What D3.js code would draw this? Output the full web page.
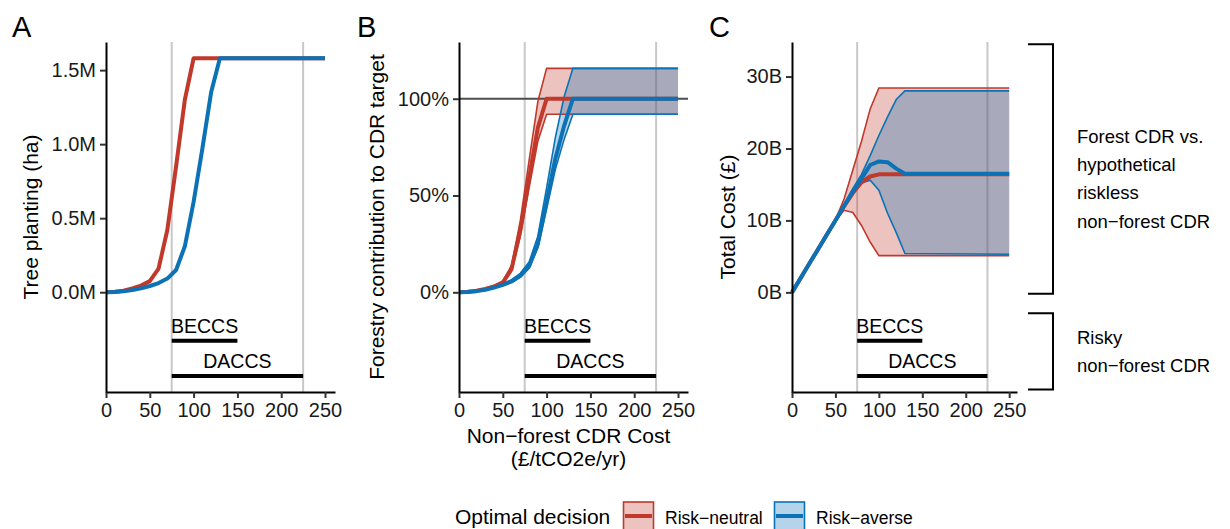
<!DOCTYPE html>
<html>
<head>
<meta charset="utf-8">
<script src="https://cdn.jsdelivr.net/npm/d3@7"></script>
<style>
  body { margin: 0; background: #fff; }
  svg { font-family: "Liberation Sans", Arial, Helvetica, sans-serif; }
</style>
</head>
<body>
<svg id="chart" width="1230" height="529"></svg>
<script>
// non-forest CDR cost (£/tCO2e/yr) at which the optimisation was run
var costSteps = [0, 10, 20, 30, 40, 50, 60, 70, 80, 90, 100, 110, 120, 130, 250];

// A: tree planting (M ha)
var plantNeutral = [0, 0.003, 0.01, 0.025, 0.045, 0.075, 0.16, 0.42, 0.85, 1.30, 1.58, 1.58, 1.58, 1.58, 1.58];
var plantAverse  = [0, 0.002, 0.006, 0.014, 0.026, 0.042, 0.062, 0.092, 0.15, 0.31, 0.61, 0.97, 1.35, 1.58, 1.58];

// B: forestry contribution to CDR target (%)
var shareNeutral   = [0, 0.3, 0.8, 1.7, 3, 5, 12, 32, 59, 85, 100, 100, 100, 100, 100];
var shareNeutralHi = [0, 0.3, 0.9, 2, 3.5, 5.8, 14, 37, 68, 98.5, 115.7, 115.7, 115.7, 115.7, 115.7];
var shareNeutralLo = [0, 0.3, 0.7, 1.6, 2.8, 4.6, 11, 29, 54, 78, 92, 92, 92, 92, 92];
var shareAverse    = [0, 0.2, 0.6, 1.3, 2.4, 3.8, 5.6, 8.5, 13.5, 25, 47, 69, 86, 100, 100];
var shareAverseHi  = [0, 0.2, 0.7, 1.5, 2.8, 4.4, 6.5, 9.8, 15.6, 29, 54, 80, 101, 115.7, 115.7];
var shareAverseLo  = [0, 0.2, 0.55, 1.2, 2.2, 3.5, 5.2, 7.8, 12.4, 23, 43, 63.5, 79, 92, 92];

// C: total cost (£B)
var costNeutral   = [0, 2, 4, 6, 8, 10, 12, 13.8, 15.3, 16.1, 16.4, 16.4, 16.4, 16.4, 16.4];
var costNeutralHi = [0, 2, 4, 6, 8, 10.1, 13, 17, 21, 25.5, 28.4, 28.4, 28.4, 28.4, 28.4];
var costNeutralLo = [0, 2, 4, 6, 8, 10, 11.4, 11.1, 9.3, 7, 5.1, 5.1, 5.1, 5.1, 5.1];
var costAverse    = [0, 2, 4, 6, 8, 10, 12, 14, 15.8, 17.7, 18.2, 18.1, 17.2, 16.5, 16.5];
var costAverseHi  = [0, 2, 4, 6, 8, 10, 12.3, 14.4, 16.4, 19, 21.8, 24.4, 26.8, 28.0, 28.0];
var costAverseLo  = [0, 2, 4, 6, 8, 10, 12, 13.8, 15.2, 15.6, 14.2, 11, 8.3, 5.4, 5.3];

// cost ranges of the alternative technologies
var techNames = ["BECCS", "DACCS"];
var techFrom = [75, 75];
var techTo = [150, 225];
var refCosts = [75, 225];

var xTicks = [0, 50, 100, 150, 200, 250];
var plantTicks = [0, 0.5, 1, 1.5];
var shareTicks = [0, 50, 100];
var costTicks = [0, 10, 20, 30];

var decisions = ["Risk\u2212neutral", "Risk\u2212averse"];
var colors = ["#c0392b", "#0b72b5"];

var svg = d3.select("#chart");
var top_ = 42, bottom_ = 392;

var panels = [
    {letter: "A", lx: 12, left: 106, right: 335, xMax: 261.4, yDom: [-0.674, 1.69],
     yTicks: plantTicks, fmt: function (d) { return d.toFixed(1) + "M"; },
     title: "Tree planting (ha)", titleX: 38,
     means: [plantNeutral, plantAverse], his: null, los: null},
    {letter: "B", lx: 357, left: 459, right: 688, xMax: 261.4, yDom: [-51.5, 129.3],
     yTicks: shareTicks, fmt: function (d) { return d + "%"; },
     title: "Forestry contribution to CDR target", titleX: 384, hline: 100,
     means: [shareNeutral, shareAverse], his: [shareNeutralHi, shareAverseHi], los: [shareNeutralLo, shareAverseLo]},
    {letter: "C", lx: 709, left: 792, right: 1017, xMax: 259, yDom: [-13.85, 34.8],
     yTicks: costTicks, fmt: function (d) { return d + "B"; },
     title: "Total Cost (\u00a3)", titleX: 735,
     means: [costNeutral, costAverse], his: [costNeutralHi, costAverseHi], los: [costNeutralLo, costAverseLo]}
];

panels.forEach(function (p) {
    var x = d3.scaleLinear().domain([0, p.xMax]).range([p.left, p.right]);
    var y = d3.scaleLinear().domain(p.yDom).range([bottom_, top_]);
    var g = svg.append("g");
    p.x = x; p.y = y;

    // reference costs
    g.selectAll("line.ref").data(refCosts).enter().append("line")
        .attr("x1", function (d) { return x(d); }).attr("x2", function (d) { return x(d); })
        .attr("y1", top_).attr("y2", bottom_)
        .attr("stroke", "#c8c8c8").attr("stroke-width", 2);

    // ribbons
    if (p.his) {
        [0, 1].forEach(function (k) {
            var area = d3.area()
                .x(function (d, i) { return x(costSteps[i]); })
                .y0(function (d, i) { return y(p.los[k][i]); })
                .y1(function (d, i) { return y(p.his[k][i]); });
            g.append("path").datum(p.his[k]).attr("d", area)
                .attr("fill", colors[k]).attr("fill-opacity", 0.3);
        });
    }
    if (p.hline !== undefined) {
        g.append("line").attr("x1", p.left).attr("x2", p.right)
            .attr("y1", y(p.hline)).attr("y2", y(p.hline))
            .attr("stroke", "#4d4d4d").attr("stroke-width", 2);
    }
    var line = d3.line().x(function (d, i) { return x(costSteps[i]); }).y(function (d) { return y(d); });
    if (p.his) {
        [0, 1].forEach(function (k) {
            [p.his[k], p.los[k]].forEach(function (s) {
                g.append("path").datum(s).attr("d", line).attr("fill", "none")
                    .attr("stroke", colors[k]).attr("stroke-width", 1.6);
            });
        });
    }
    [0, 1].forEach(function (k) {
        g.append("path").datum(p.means[k]).attr("d", line).attr("fill", "none")
            .attr("stroke", colors[k]).attr("stroke-width", 4)
            .attr("stroke-linejoin", "round");
    });

    // technology cost ranges
    var row = d3.scalePoint().domain(techNames).range([340.7, 376]);
    techNames.forEach(function (t, i) {
        g.append("line").attr("x1", x(techFrom[i])).attr("x2", x(techTo[i]))
            .attr("y1", row(t)).attr("y2", row(t))
            .attr("stroke", "#000").attr("stroke-width", 4);
        g.append("text").attr("x", x((techFrom[i] + techTo[i]) / 2)).attr("y", row(t) - 8)
            .attr("text-anchor", "middle").attr("font-size", 19.5).text(t);
    });

    // axes
    var ax = g.append("g").attr("transform", "translate(0," + bottom_ + ")")
        .call(d3.axisBottom(x).tickValues(xTicks).tickSize(6).tickSizeOuter(0).tickPadding(5));
    var ay = g.append("g").attr("transform", "translate(" + p.left + ",0)")
        .call(d3.axisLeft(y).tickValues(p.yTicks).tickFormat(p.fmt).tickSize(6).tickSizeOuter(0).tickPadding(4));
    [ax, ay].forEach(function (a) {
        a.select(".domain").attr("stroke", "#000").attr("stroke-width", 2);
        a.selectAll(".tick line").attr("stroke", "#333").attr("stroke-width", 2);
        a.selectAll(".tick text").attr("font-size", 20).attr("fill", "#1a1a1a")
            .attr("font-family", "Liberation Sans, Arial, sans-serif");
    });

    g.append("text").attr("transform", "translate(" + p.titleX + "," + (top_ + bottom_) / 2 + ") rotate(-90)")
        .attr("text-anchor", "middle").attr("font-size", 21).text(p.title);
    svg.append("text").attr("x", p.lx).attr("y", 37).attr("font-size", 29).text(p.letter);
});

// x axis title (middle panel only)
var pb = panels[1];
svg.append("text").attr("x", pb.x(125)).attr("y", 443).attr("text-anchor", "middle")
    .attr("font-size", 21).text("Non\u2212forest CDR Cost");
svg.append("text").attr("x", pb.x(125)).attr("y", 466).attr("text-anchor", "middle")
    .attr("font-size", 21).text("(\u00a3/tCO2e/yr)");

// brackets to the right of panel C
var pc = panels[2];
var bracketTop = [34.5, -2.9];
var bracketBottom = [-0.2, -13.5];
var bracketLabels = [["Forest CDR vs.", "hypothetical", "riskless", "non\u2212forest CDR"], ["Risky", "non\u2212forest CDR"]];
var bracketFirstBaseline = [142.7, 344];
bracketLabels.forEach(function (lines, i) {
    var y0 = pc.y(bracketTop[i]), y1 = pc.y(bracketBottom[i]);
    svg.append("path").attr("d", "M1028," + y0 + "H1053V" + y1 + "H1028")
        .attr("fill", "none").attr("stroke", "#000").attr("stroke-width", 2);
    lines.forEach(function (t, j) {
        svg.append("text").attr("x", 1077).attr("y", bracketFirstBaseline[i] + j * 28.3)
            .attr("font-size", 18.5).text(t);
    });
});

// legend
svg.append("text").attr("x", 455).attr("y", 524).attr("font-size", 21).text("Optimal decision");
var keyX = [623.5, 774.5];
decisions.forEach(function (d, k) {
    svg.append("rect").attr("x", keyX[k]).attr("y", 502).attr("width", 30).attr("height", 30)
        .attr("fill", colors[k]).attr("fill-opacity", 0.3)
        .attr("stroke", colors[k]).attr("stroke-width", 1.6);
    svg.append("line").attr("x1", keyX[k] + 1.5).attr("x2", keyX[k] + 28.5)
        .attr("y1", 516).attr("y2", 516).attr("stroke", colors[k]).attr("stroke-width", 4);
    svg.append("text").attr("x", keyX[k] + 41.5).attr("y", 523.5).attr("font-size", 17.5).text(d);
});
</script>
</body>
</html>
